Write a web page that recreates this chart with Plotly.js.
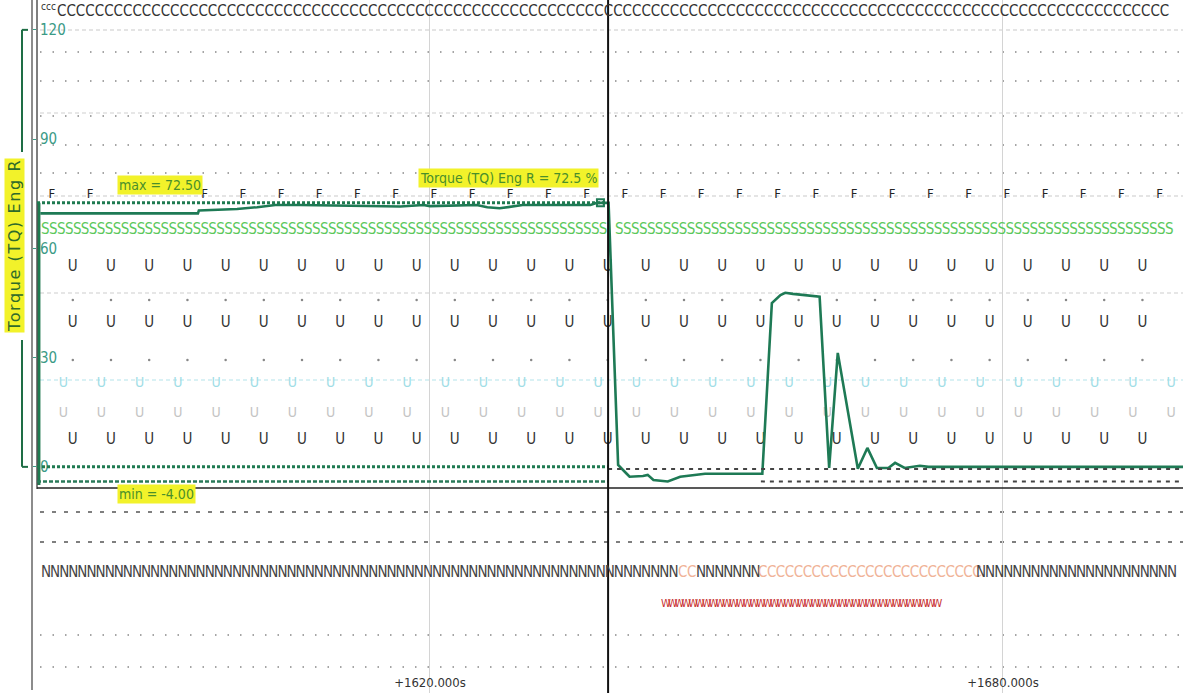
<!DOCTYPE html>
<html><head><meta charset="utf-8">
<script src="https://cdn.plot.ly/plotly-3.0.1.min.js"></script>
<style>html,body{margin:0;padding:0;background:#fff;overflow:hidden}#chart{width:1183px;height:693px}</style>
</head><body><div id="chart"></div>
<script>
// ---------------- data ----------------
const seriesName = 'Torque (TQ) Eng R';
const unit = '%';
const torqueTime = [1579.2,1595.7,1595.8,1599.8,1601.9,1603.8,1606.4,1616.9,1619.3,1620.0,
  1624.9,1626.0,1627.3,1628.7,1629.7,1636.8,1637.5,1638.7,1639.7,1640.6,
  1640.9,1642.3,1642.8,1643.4,1644.9,1646.2,1646.9,1648.8,1654.8,1655.8,
  1656.7,1657.2,1658.0,1660.1,1660.8,1661.8,1662.7,1664.8,1665.8,1666.8,
  1668.0,1668.7,1669.7,1671.3,1672.2,1698.9];
const torqueValue = [69.6,69.6,70.4,70.8,71.3,71.9,71.9,71.5,71.9,71.6,
  71.9,71.3,71.0,71.5,71.9,71.9,72.5,72.5,0.5,-1.9,
  -2.7,-2.5,-2.2,-3.6,-4.0,-2.7,-2.5,-1.9,-1.9,45.0,
  47.2,47.8,47.5,47.0,46.7,-0.3,31.3,-0.5,5.2,-0.3,
  -0.3,1.1,-0.3,0.3,0.0,0.0];
const maxValue = 72.5;
const minValue = -4.0;
const cursorTime = 1638.65;
const cursorValue = 72.5;
const timeRange = [1578.85, 1698.85];
const xTickValues = [1620, 1680];
const xTickLabels = ['+1620.000s', '+1680.000s'];
const yTickValues = [0, 30, 60, 90, 120];
const yTickLabels = ['0', '30', '60', '90', '120'];
// F flags visible in the picture (two are hidden under the "max" label there)
const fFlagTimes = [1580.4,1584.4,1596.4,1600.4,1604.4,1608.4,1612.4,1616.4,
  1620.4,1624.4,1628.4,1632.4,1636.4,1640.4,1644.4,1648.4,1652.4,1656.4,
  1660.4,1664.4,1668.4,1672.4,1676.4,1680.4,1684.4,1688.4,1692.4,1696.4];
const uFlagTimes = [1582.6,1586.6,1590.6,1594.6,1598.6,1602.6,1606.6,1610.6,1614.6,1618.6,
  1622.6,1626.6,1630.6,1634.6,1638.6,1642.6,1646.6,1650.6,1654.6,1658.6,
  1662.6,1666.6,1670.6,1674.6,1678.6,1682.6,1686.6,1690.6,1694.6];
const uFaintTimes = [1581.6,1585.6,1589.6,1593.6,1597.6,1601.6,1605.6,1609.6,1613.6,1617.6,
  1621.6,1625.6,1629.6,1633.6,1637.6,1641.6,1645.6,1649.6,1653.6,1657.6,
  1661.6,1665.6,1669.6,1673.6,1677.6,1681.6,1685.6,1689.6,1693.6,1697.6];
const cRowSpan = [1580.8, 1698.6];
const sRowSpans = [[1579.2, 1638.2], [1639.3, 1698.6]];
const nRowSpan = [1579.2, 1698.5];
const clutchSpans = [[1645.9, 1647.7], [1654.2, 1677.1]];
const warnSpan = [1644.1, 1673.4];

// ---------------- geometry helpers ----------------
const W = 1183, H = 693, ML = 37;
const yRange = [-62.1, 128.2];
const pxPerSec = (W - ML) / (timeRange[1] - timeRange[0]);
const pyToY = py => yRange[1] - py * (yRange[1] - yRange[0]) / H;
const pyToPaper = py => 1 - py / H;
const pxToPaper = px => (px - ML) / (W - ML);
const NARROW = "'Liberation Sans Narrow','DejaVu Sans Condensed','Arial Narrow','Liberation Sans',sans-serif";
const ctx = document.createElement('canvas').getContext('2d');
function charW(ch, size, fam) { ctx.font = size + 'px ' + fam; return ctx.measureText(ch).width; }
function fillRow(letter, t0, t1, py, size, color, spacing, atEdge) {
  spacing = spacing || 0;
  const avail = (t1 - t0) * pxPerSec;
  const cw = charW(letter, size, NARROW) + spacing;
  const n = Math.max(1, atEdge ? Math.floor((avail - 4) / cw) : Math.round(avail / cw));
  let txt = letter.repeat(n);
  if (spacing) txt = '<span style="letter-spacing:' + spacing + 'px">' + txt + '</span>';
  return {xref: 'x', x: t0, xanchor: 'left', yref: 'paper', y: pyToPaper(py), yanchor: 'middle',
    text: txt, showarrow: false, borderpad: 0, font: {family: NARROW, size: size, color: color}};
}
function letterTrace(times, letter, py, size, color) {
  return {type: 'scatter', mode: 'text', x: times, y: times.map(() => pyToY(py)), text: times.map(() => letter),
    textfont: {family: NARROW, size: size, color: color}, hoverinfo: 'skip', showlegend: false, cliponaxis: true};
}

// ---------------- traces ----------------
const traces = [
  letterTrace(fFlagTimes, 'F', 195, 13, '#222'),
  letterTrace(uFlagTimes, 'U', 267, 15, '#333'),
  letterTrace(uFlagTimes, 'U', 323, 15, '#333'),
  letterTrace(uFaintTimes, 'U', 383, 14, '#9fdde6'),
  letterTrace(uFaintTimes, 'U', 413, 14, '#c4c4c4'),
  letterTrace(uFlagTimes, 'U', 440, 15, '#333'),
  {type: 'scatter', mode: 'markers', x: uFlagTimes, y: uFlagTimes.map(() => pyToY(300)),
    marker: {size: 2.5, color: '#888'}, hoverinfo: 'skip', showlegend: false},
  {type: 'scatter', mode: 'markers', x: uFlagTimes, y: uFlagTimes.map(() => pyToY(360)),
    marker: {size: 2.5, color: '#888'}, hoverinfo: 'skip', showlegend: false},
  {type: 'scatter', mode: 'lines', x: [timeRange[0] + 0.15, timeRange[0] + 0.15], y: [minValue - 1, maxValue],
    line: {color: '#1e7a50', width: 4}, hoverinfo: 'skip', showlegend: false},
  {type: 'scatter', mode: 'lines', x: torqueTime, y: torqueValue, name: seriesName,
    line: {color: '#1e7a55', width: 2.6}, showlegend: false},
  {type: 'scatter', mode: 'markers', x: [cursorTime - 0.8], y: [cursorValue],
    marker: {symbol: 'square-open', size: 7, color: '#1e7a55', line: {width: 2}}, hoverinfo: 'skip', showlegend: false}
];

// ---------------- shapes ----------------
const shapes = [];
const rows = [
  {py: 30, color: '#c9c9c9', dash: '4px,3px', w: 1},
  {py: 52, color: '#888', dash: '1.5px,11px', w: 1.5},
  {py: 81, color: '#888', dash: '1.5px,11px', w: 1.5},
  {py: 113, color: '#cfcfcf', dash: '4px,3px', w: 1},
  {py: 116, color: '#888', dash: '1.5px,11px', w: 1.5},
  {py: 145, color: '#888', dash: '1.5px,11px', w: 1.5},
  {py: 173, color: '#888', dash: '1.5px,11px', w: 1.5},
  {py: 196, color: '#c9c9c9', dash: '4px,3px', w: 1},
  {py: 293, color: '#cdcdcd', dash: '4px,3px', w: 1},
  {py: 380, color: '#b3e3ea', dash: '4px,3px', w: 1},
  {py: 512, color: '#555', dash: '4px,8px', w: 1.5},
  {py: 542, color: '#555', dash: '4px,8px', w: 1.5},
  {py: 635, color: '#888', dash: '1.5px,11px', w: 1.5},
  {py: 667, color: '#888', dash: '1.5px,11px', w: 1.5}
];
rows.forEach(r => shapes.push({type: 'line', xref: 'paper', yref: 'paper', x0: pxToPaper(40), x1: 1,
  y0: pyToPaper(r.py), y1: pyToPaper(r.py), line: {color: r.color, width: r.w, dash: r.dash}, layer: 'below'}));
// frame lines
shapes.push({type: 'line', xref: 'paper', yref: 'paper', x0: pxToPaper(32), x1: pxToPaper(32), y0: pyToPaper(690), y1: 1, line: {color: '#666', width: 1.5}});
shapes.push({type: 'line', xref: 'paper', yref: 'paper', x0: pxToPaper(37), x1: pxToPaper(37), y0: pyToPaper(489), y1: 1, line: {color: '#555', width: 1.5}});
shapes.push({type: 'line', xref: 'paper', yref: 'paper', x0: pxToPaper(37), x1: 1, y0: pyToPaper(488), y1: pyToPaper(488), line: {color: '#222', width: 1.5}});
// max / zero / min reference lines
shapes.push({type: 'line', xref: 'x', yref: 'y', x0: timeRange[0], x1: cursorTime - 0.3, y0: maxValue, y1: maxValue, line: {color: '#1e7a50', width: 3, dash: '3px,2px'}});
shapes.push({type: 'line', xref: 'x', yref: 'y', x0: timeRange[0], x1: cursorTime, y0: 0, y1: 0, line: {color: '#1e7a50', width: 3, dash: '3px,2px'}});
shapes.push({type: 'line', xref: 'x', yref: 'y', x0: cursorTime, x1: timeRange[1], y0: -0.6, y1: -0.6, line: {color: '#444', width: 2, dash: '4px,5px'}});
shapes.push({type: 'line', xref: 'x', yref: 'y', x0: timeRange[0], x1: cursorTime, y0: minValue, y1: minValue, line: {color: '#2a7a5a', width: 2.5, dash: '4px,2px'}});
shapes.push({type: 'line', xref: 'x', yref: 'y', x0: cursorTime + 16, x1: timeRange[1], y0: minValue, y1: minValue, line: {color: '#444', width: 2, dash: '4px,5px'}});
// cursor
shapes.push({type: 'line', xref: 'x', yref: 'paper', x0: cursorTime, x1: cursorTime, y0: 0, y1: 1, line: {color: '#111', width: 2}});
// axis title bracket
const bx = pxToPaper(22), bx2 = pxToPaper(28);
shapes.push({type: 'line', xref: 'paper', yref: 'y', x0: bx, x1: bx2, y0: 120, y1: 120, line: {color: '#1e6e45', width: 2}});
shapes.push({type: 'line', xref: 'paper', yref: 'y', x0: bx, x1: bx, y0: 120, y1: pyToY(152), line: {color: '#1e6e45', width: 2}});
shapes.push({type: 'line', xref: 'paper', yref: 'y', x0: bx, x1: bx, y0: pyToY(340), y1: 0, line: {color: '#1e6e45', width: 2}});
shapes.push({type: 'line', xref: 'paper', yref: 'y', x0: bx, x1: bx2, y0: 0, y1: 0, line: {color: '#1e6e45', width: 2}});

// ---------------- annotations ----------------
const ann = [];
ann.push({xref: 'x', x: timeRange[0] + 0.2, xanchor: 'left', yref: 'paper', y: pyToPaper(7), yanchor: 'middle', text: 'ccc', showarrow: false,
  font: {family: NARROW, size: 10, color: '#333'}});
ann.push(fillRow('C', cRowSpan[0], cRowSpan[1], 11, 15, '#333', 0, true));
ann.push(fillRow('S', sRowSpans[0][0], sRowSpans[0][1], 229, 15, '#5cc85c', -0.6));
ann.push(fillRow('S', sRowSpans[1][0], sRowSpans[1][1], 229, 15, '#5cc85c', -0.6, true));
// N row with clutch (C) segments
let t = nRowSpan[0];
clutchSpans.forEach(c => {
  ann.push(fillRow('N', t, c[0], 572, 15, '#444', -1));
  ann.push(fillRow('C', c[0], c[1], 572, 15, '#f0b397', -0.5));
  t = c[1];
});
ann.push(fillRow('N', t, nRowSpan[1], 572, 15, '#444', -1, true));
ann.push(fillRow('W', warnSpan[0], warnSpan[1], 603, 11, '#c83232', -3));
// labels
const LBL = {family: NARROW, size: 14, color: '#4a8f2a'};
ann.push({xref: 'paper', x: pxToPaper(117), xanchor: 'left', yref: 'paper', y: pyToPaper(185), yanchor: 'middle',
  text: 'max = ' + maxValue.toFixed(2), showarrow: false, bgcolor: '#f2f22a', borderpad: 1, font: LBL});
ann.push({xref: 'paper', x: pxToPaper(117), xanchor: 'left', yref: 'paper', y: pyToPaper(494), yanchor: 'middle',
  text: 'min = ' + minValue.toFixed(2), showarrow: false, bgcolor: '#f2f22a', borderpad: 1, font: LBL});
ann.push({xref: 'x', x: cursorTime, xanchor: 'right', xshift: -9, yref: 'paper', y: pyToPaper(178), yanchor: 'middle',
  text: seriesName + ' = ' + cursorValue + ' ' + unit, showarrow: false, bgcolor: '#f2f22a', borderpad: 1, font: LBL});
ann.push({xref: 'paper', x: pxToPaper(15), xanchor: 'center', yref: 'paper', y: pyToPaper(246), yanchor: 'middle',
  text: '<span style="letter-spacing:1.6px">' + seriesName + '</span>', textangle: -90, showarrow: false, bgcolor: '#f2f22a', borderpad: 0,
  font: {family: "'DejaVu Sans',Verdana,sans-serif", size: 16, color: '#2f6a2a'}});

const layout = {
  width: W, height: H, margin: {l: ML, r: 0, t: 0, b: 0},
  paper_bgcolor: '#fff', plot_bgcolor: '#fff', showlegend: false,
  xaxis: {range: timeRange, tickvals: xTickValues, ticktext: xTickLabels, ticklabelposition: 'inside',
    showgrid: true, gridcolor: '#d4d4d4', gridwidth: 1, zeroline: false, showline: false, ticks: '',
    tickfont: {family: NARROW, size: 13, color: '#333'}},
  yaxis: {range: yRange, tickvals: yTickValues, ticktext: yTickLabels, ticklabelposition: 'inside',
    showgrid: false, zeroline: false, showline: false, ticks: 'outside', ticklen: 3, tickcolor: '#3a9a86',
    tickfont: {family: NARROW, size: 15, color: '#3a9a86'}},
  shapes: shapes, annotations: ann
};
Plotly.newPlot('chart', traces, layout, {displayModeBar: false, staticPlot: true});
</script></body></html>
